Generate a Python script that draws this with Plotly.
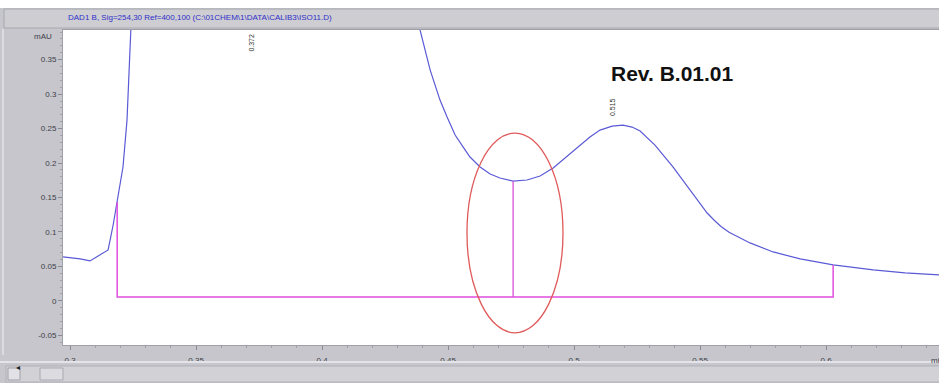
import plotly.graph_objects as go

# ---- data ----
time_min = [0.2972, 0.3040, 0.3079, 0.3151, 0.3171, 0.3187, 0.3210, 0.3226, 0.3234, 0.3242,
            0.3255, 0.3300, 0.3720, 0.4200, 0.4369, 0.4389, 0.4429, 0.4468, 0.4496, 0.4528,
            0.4560, 0.4587, 0.4627, 0.4667, 0.4706, 0.4758, 0.4813, 0.4865, 0.4917, 0.4964,
            0.5012, 0.5063, 0.5103, 0.5151, 0.5194, 0.5230, 0.5262, 0.5321, 0.5393, 0.5460,
            0.5528, 0.5556, 0.5583, 0.5615, 0.5650, 0.5698, 0.5790, 0.5897, 0.6028, 0.6187,
            0.6313, 0.6448]
signal_mau = [0.0638, 0.0609, 0.0580, 0.0739, 0.1101, 0.1435, 0.1942, 0.2623, 0.3203, 0.3928,
              0.5000, 0.9000, 1.6000, 0.9000, 0.4360, 0.3928, 0.3348, 0.2913, 0.2667, 0.2406,
              0.2232, 0.2087, 0.1942, 0.1841, 0.1783, 0.1739, 0.1754, 0.1812, 0.1928, 0.2072,
              0.2232, 0.2377, 0.2478, 0.2536, 0.2551, 0.2522, 0.2464, 0.2261, 0.1942, 0.1609,
              0.1275, 0.1170, 0.1080, 0.0995, 0.0925, 0.0841, 0.0710, 0.0609, 0.0522, 0.0449,
              0.0406, 0.0377]

baseline_x = [0.3187, 0.3187, 0.6028, 0.6028]
baseline_y = [0.1435, 0.0058, 0.0058, 0.0522]
drop_x = [0.4758, 0.4758]
drop_y = [0.0058, 0.1739]

peak_rt = [0.372, 0.515]
peak_label_y = [0.374, 0.281]
peak_labels = ["0.372", "0.515"]

x_ticks = [0.3, 0.35, 0.4, 0.45, 0.5, 0.55, 0.6]
x_ticktext = ["0.3", "0.35", "0.4", "0.45", "0.5", "0.55", "0.6"]
y_ticks = [-0.05, 0, 0.05, 0.1, 0.15, 0.2, 0.25, 0.3, 0.35]
y_ticktext = ["-0.05", "0", "0.05", "0.1", "0.15", "0.2", "0.25", "0.3", "0.35"]

# ellipse round the valley
ell_x = [0.4575, 0.4956]
ell_y = [-0.0464, 0.2435]

title_text = "DAD1 B, Sig=254,30 Ref=400,100 (C:\\01CHEM\\1\\DATA\\CALIB3\\ISO11.D)"

W, H = 939, 383
L, R, T, B = 63, 0, 30, 38
PW, PH = W - L - R, H - T - B


def px(x):  # pixel -> paper x
    return (x - L) / PW


def py(y):  # pixel -> paper y
    return (H - B - y) / PH


GRAY = "#c6c6cc"
FONT = "Liberation Sans"

fig = go.Figure()

fig.add_trace(go.Scatter(x=time_min, y=signal_mau, mode="lines",
                         line=dict(color="#5a5ad6", width=1.2), hoverinfo="skip"))
fig.add_trace(go.Scatter(x=baseline_x, y=baseline_y, mode="lines",
                         line=dict(color="#e04ee0", width=1.5), hoverinfo="skip"))
fig.add_trace(go.Scatter(x=drop_x, y=drop_y, mode="lines",
                         line=dict(color="#d850d8", width=1.3), hoverinfo="skip"))

shapes = [
    # white strip on top
    dict(type="rect", xref="paper", yref="paper", x0=px(0), x1=px(W), y0=py(8), y1=py(-1),
         fillcolor="white", line_width=0, layer="below"),
    # title bar
    dict(type="rect", xref="paper", yref="paper", x0=px(4), x1=px(W + 2), y0=py(28), y1=py(9),
         fillcolor="#cdcdd2", line=dict(color="#a8a8b0", width=1), layer="below"),
    # light strip on the left panel
    dict(type="line", xref="paper", yref="paper", x0=px(3), x1=px(3), y0=py(355), y1=py(29),
         line=dict(color="#dcdce0", width=2), layer="below"),
    # separator and scrollbar
    dict(type="line", xref="paper", yref="paper", x0=px(0), x1=px(W), y0=py(362), y1=py(362),
         line=dict(color="#e4e4e8", width=2)),
    dict(type="rect", xref="paper", yref="paper", x0=px(6), x1=px(W + 2), y0=py(382), y1=py(366),
         fillcolor="#d2d2d6", line=dict(color="#b0b0b8", width=1)),
    dict(type="rect", xref="paper", yref="paper", x0=px(8), x1=px(20), y0=py(380), y1=py(368),
         fillcolor="#e2e2e6", line=dict(color="#a0a0a8", width=1)),
    dict(type="rect", xref="paper", yref="paper", x0=px(40), x1=px(63), y0=py(380), y1=py(368),
         fillcolor="#dcdce0", line=dict(color="#a8a8b0", width=1)),
    # red ellipse
    dict(type="circle", xref="x", yref="y", x0=ell_x[0], x1=ell_x[1], y0=ell_y[0], y1=ell_y[1],
         line=dict(color="#e05a5a", width=1.3)),
]

annotations = [
    dict(text=title_text, xref="paper", yref="paper", x=px(66), y=py(18), xanchor="left",
         yanchor="middle", showarrow=False, font=dict(family=FONT, size=8, color="#3030c8")),
    dict(text="mAU", xref="paper", yref="paper", x=px(54), y=py(36), xanchor="right",
         yanchor="middle", showarrow=False, font=dict(family=FONT, size=8, color="#404048")),
    dict(text="min", xref="paper", yref="paper", x=px(929), y=py(360), xanchor="left",
         yanchor="middle", showarrow=False, font=dict(family=FONT, size=8, color="#404048")),
    dict(text="<b>Rev. B.01.01</b>", xref="x", yref="y", x=0.539, y=0.330, xanchor="center",
         yanchor="middle", showarrow=False, font=dict(family=FONT, size=21, color="#111111")),
    dict(text="\u25c2", xref="paper", yref="paper", x=px(14), y=py(374), showarrow=False,
         font=dict(family=FONT, size=8, color="#202020")),
]

for rt, ly, lab in zip(peak_rt, peak_label_y, peak_labels):
    annotations.append(dict(text=lab, x=rt, y=ly, xref="x", yref="y", showarrow=False,
                            textangle=-90, font=dict(family=FONT, size=7, color="#303030")))

fig.update_layout(
    width=W, height=H,
    margin=dict(l=L, r=R, t=T, b=B, pad=0),
    paper_bgcolor=GRAY,
    plot_bgcolor="white",
    showlegend=False,
    shapes=shapes,
    annotations=annotations,
    font=dict(family=FONT, size=8, color="#404048"),
)

fig.update_xaxes(
    range=[0.2972, 0.6448], tickmode="array", tickvals=x_ticks, ticktext=x_ticktext,
    ticks="outside", ticklen=4, tickcolor="#8a8a92", tickfont=dict(size=8, color="#404048"),
    ticklabelstandoff=3,
    minor=dict(tickmode="linear", tick0=0, dtick=0.01, ticks="outside", ticklen=2, tickcolor="#a0a0a8"),
    showgrid=False, zeroline=False, showline=True, linecolor="#a0a0a8", mirror=True,
)
fig.update_yaxes(
    range=[-0.064, 0.393], tickmode="array", tickvals=y_ticks, ticktext=y_ticktext,
    ticks="outside", ticklen=4, tickcolor="#8a8a92", tickfont=dict(size=8, color="#404048"),
    minor=dict(tickmode="linear", tick0=0, dtick=0.01, ticks="outside", ticklen=2, tickcolor="#a0a0a8"),
    showgrid=False, zeroline=False, showline=True, linecolor="#a0a0a8", mirror=True,
)

# page margin off, so the figure fills the window like the screenshot
fig.write_html("out.html", config={"displayModeBar": False},
               post_script="document.body.style.margin='0';")
